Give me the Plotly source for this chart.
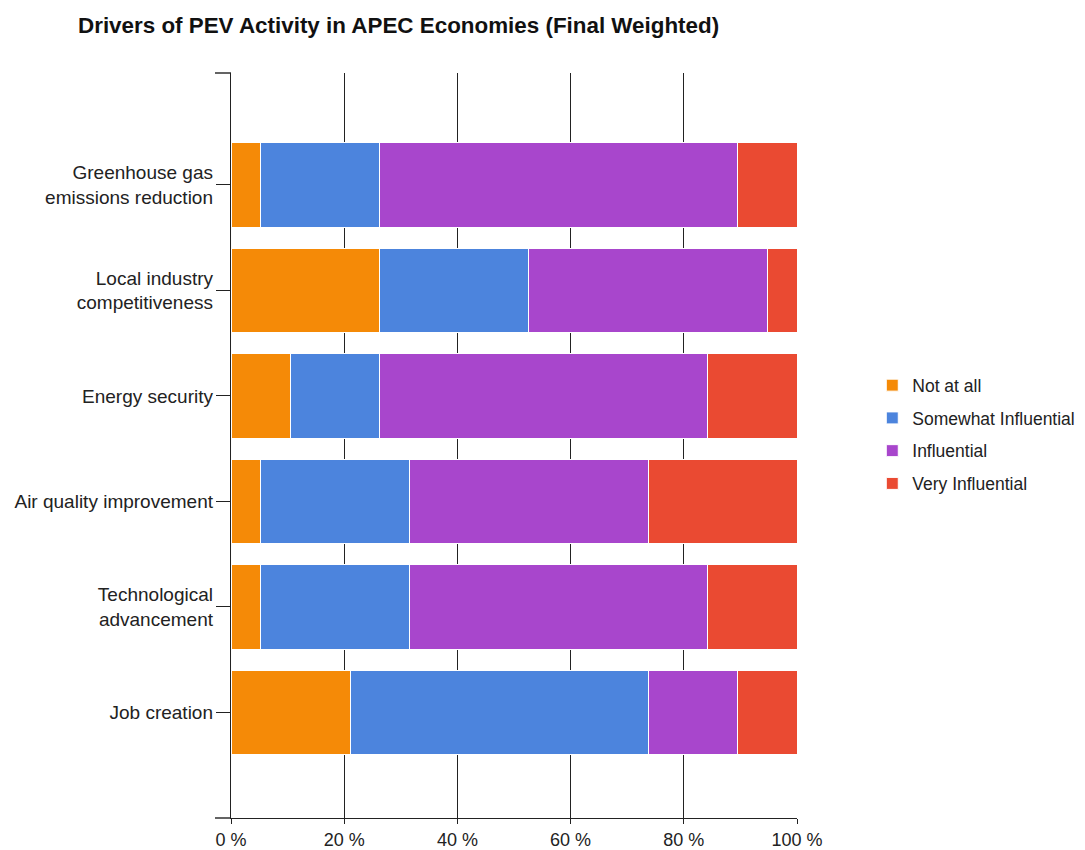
import plotly.graph_objects as go

categories = [
    "Greenhouse gas<br>emissions reduction",
    "Local industry<br>competitiveness",
    "Energy security",
    "Air quality improvement",
    "Technological<br>advancement",
    "Job creation",
]
not_at_all = [5.26, 26.32, 10.53, 5.26, 5.26, 21.05]
somewhat = [21.05, 26.32, 15.79, 26.32, 26.32, 52.63]
influential = [63.16, 42.11, 57.89, 42.11, 52.63, 15.79]
very = [10.53, 5.26, 15.79, 26.32, 15.79, 10.53]

x_ticks = [0, 20, 40, 60, 80, 100]
x_tick_text = ["0 %", "20 %", "40 %", "60 %", "80 %", "100 %"]

series = [
    ("Not at all", not_at_all, "#F58A07"),
    ("Somewhat Influential", somewhat, "#4C84DD"),
    ("Influential", influential, "#A846CC"),
    ("Very Influential", very, "#EA4A32"),
]

fig = go.Figure()
for i, (name, vals, col) in enumerate(series):
    fig.add_trace(go.Bar(
        y=categories, x=vals, name=name, orientation="h",
        marker=dict(color=col, line=dict(color="white", width=1)),
        legendgroup=f"g{i}",
    ))

fig.update_layout(
    barmode="stack",
    bargap=0.2,
    width=1085, height=850,
    margin=dict(l=223, r=296, t=65, b=40, autoexpand=False),
    paper_bgcolor="white", plot_bgcolor="white",
    font=dict(family="Liberation Sans, Arial, sans-serif", color="#222", size=18),
    title=dict(text="<b>Drivers of PEV Activity in APEC Economies (Final Weighted)</b>",
               x=70/1085, xanchor="left", y=1-17/850, yanchor="middle",
               font=dict(size=22.4, color="#111")),
    showlegend=True,
    legend=dict(x=1.133, xanchor="left", y=0.605, yanchor="top",
                traceorder="grouped", tracegroupgap=7,
                font=dict(size=17.5, color="#222"), bgcolor="rgba(0,0,0,0)"),
    xaxis=dict(range=[0, 100], tickvals=x_ticks, ticktext=x_tick_text,
               showgrid=True, gridcolor="#222", gridwidth=1.4,
               showline=True, linecolor="#222", linewidth=1.4,
               ticks="outside", ticklen=5, tickcolor="#222", automargin=False,
               zeroline=False, layer="below traces", tickfont=dict(size=18)),
    yaxis=dict(categoryorder="array", categoryarray=categories,
               range=[6.0, -1.06], showgrid=False, automargin=False,
               showline=True, linecolor="#222", linewidth=1.4,
               ticks="outside", ticklen=14, tickcolor="#222",
               tickfont=dict(size=19), ticklabelstandoff=-1),
)

# small ticks at the ends of the category axis
for yv in (0, 1):
    fig.add_shape(type="line", xref="x domain", yref="y domain",
                  x0=-16/566, x1=0, y0=yv, y1=yv,
                  line=dict(color="#222", width=1.4))

fig.write_html("out.html")
